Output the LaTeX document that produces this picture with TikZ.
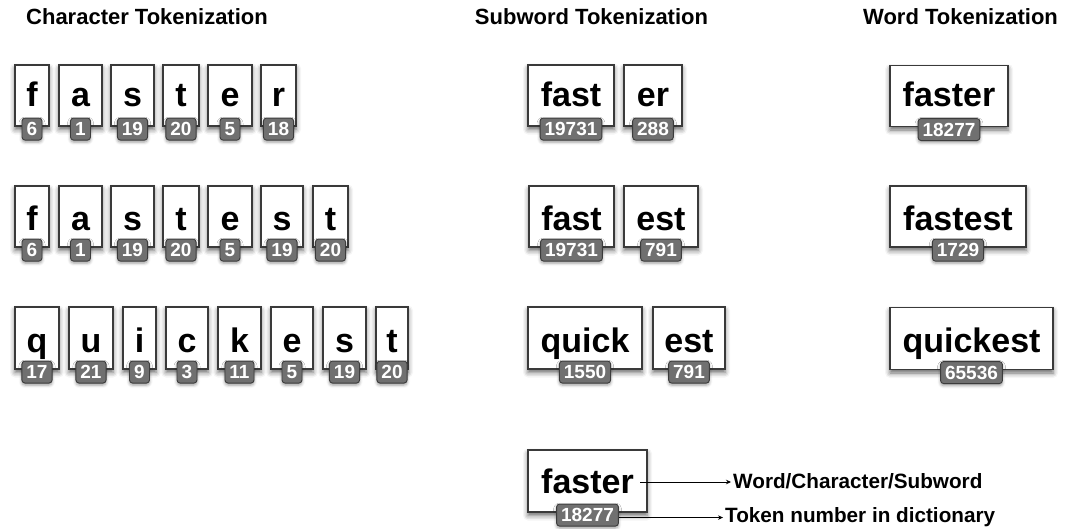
\documentclass[tikz,border=0pt]{standalone}
\usepackage{fontspec}
\setmainfont{Liberation Sans}
\usetikzlibrary{arrows.meta,shadows.blur}
\definecolor{edge}{HTML}{3A3A3A}
\definecolor{badgefill}{HTML}{707070}
\definecolor{badgeedge}{HTML}{3C3C3C}
\tikzset{
  tokbox/.style={draw=edge, line width=1.1pt, fill=white, inner sep=0pt,
    font=\fontsize{34}{40}\selectfont\bfseries,
    blur shadow={shadow xshift=0pt, shadow yshift=-3.5pt,
      shadow blur radius=5pt, shadow opacity=60}},
  rowA/.style={minimum height=61pt, text height=41pt, text depth=20pt},
  rowB/.style={minimum height=61pt, text height=44pt, text depth=17pt},
  rowC/.style={minimum height=62pt, text height=45pt, text depth=17pt},
  rowL/.style={minimum height=62pt, text height=43pt, text depth=19pt},
  badge/.style={draw=badgeedge, line width=0.9pt, fill=badgefill,
    rounded corners=3pt, text=white,
    font=\fontsize{19}{21}\selectfont\bfseries,
    inner xsep=4.5pt, inner ysep=0pt, minimum height=22pt, minimum width=20pt,
    text height=13.5pt, text depth=0pt,
    blur shadow={shadow xshift=0pt, shadow yshift=-2pt,
      shadow blur radius=3pt, shadow opacity=40}},
  title/.style={font=\fontsize{22}{25}\selectfont\bfseries, anchor=base, inner sep=0pt},
  legend/.style={font=\fontsize{20.7}{24}\selectfont\bfseries, anchor=base west, inner sep=2pt},
  legarrow/.style={draw=black, line width=0.7pt, -{Stealth[length=5pt,width=4.5pt]}}
}
% token card: name, row style, left x, right x, centre y, text, dictionary number
\newcommand\tokcard[7]{%
  \node[tokbox,#2,minimum width=#4pt-#3pt] (#1) at ({(#3+#4)/2},#5) {#6};
  \node[badge] (#1-n) at ([yshift=-2.5pt]#1.south) {#7};
}
\begin{document}
\begin{tikzpicture}[x=1pt,y=-1pt]
\useasboundingbox (0,0) rectangle (1065,528);

% column headings
\node[title] (hc) at (147,24) {Character Tokenization};
\node[title] (hs) at (591.5,24) {Subword Tokenization};
\node[title] (hw) at (960.5,24) {Word Tokenization};

% character tokenization: faster
\tokcard{a1}{rowA}{15}{49}{95.5}{f}{6}
\tokcard{a2}{rowA}{59}{102}{95.5}{a}{1}
\tokcard{a3}{rowA}{111}{154}{95.5}{s}{19}
\tokcard{a4}{rowA}{163}{199}{95.5}{t}{20}
\tokcard{a5}{rowA}{208}{252}{95.5}{e}{5}
\tokcard{a6}{rowA}{261}{296}{95.5}{r}{18}

% character tokenization: fastest
\tokcard{b1}{rowB}{15}{49}{216.5}{f}{6}
\tokcard{b2}{rowB}{59}{102}{216.5}{a}{1}
\tokcard{b3}{rowB}{111}{154}{216.5}{s}{19}
\tokcard{b4}{rowB}{163}{199}{216.5}{t}{20}
\tokcard{b5}{rowB}{208}{252}{216.5}{e}{5}
\tokcard{b6}{rowB}{261}{303}{216.5}{s}{19}
\tokcard{b7}{rowB}{313}{348}{216.5}{t}{20}

% character tokenization: quickest
\tokcard{c1}{rowC}{15}{59}{338}{q}{17}
\tokcard{c2}{rowC}{69}{113}{338}{u}{21}
\tokcard{c3}{rowC}{123}{156}{338}{i}{9}
\tokcard{c4}{rowC}{166}{208}{338}{c}{3}
\tokcard{c5}{rowC}{218}{261}{338}{k}{11}
\tokcard{c6}{rowC}{271}{313}{338}{e}{5}
\tokcard{c7}{rowC}{323}{366}{338}{s}{19}
\tokcard{c8}{rowC}{376}{408}{338}{t}{20}

% subword tokenization
\tokcard{sa1}{rowA}{528}{614}{95.5}{fast}{19731}
\tokcard{sa2}{rowA}{624}{682}{95.5}{er}{288}
\tokcard{sb1}{rowB}{529}{614}{216.5}{fast}{19731}
\tokcard{sb2}{rowB}{624}{698}{216.5}{est}{791}
\tokcard{sc1}{rowC}{528}{642}{338}{quick}{1550}
\tokcard{sc2}{rowC}{653}{725}{338}{est}{791}

% word tokenization
\tokcard{wa}{rowA}{890}{1008}{96}{faster}{18277}
\tokcard{wb}{rowB}{890}{1026}{216.5}{fastest}{1729}
\tokcard{wc}{rowC}{890}{1053}{338.5}{quickest}{65536}

% legend
\tokcard{lg}{rowL}{528}{647}{481}{faster}{18277}
\node[legend] (l1) at (731,488) {Word/Character/Subword};
\node[legend] (l2) at (723,522) {Token number in dictionary};
\coordinate (lgword) at (640,482);
\draw[legarrow] (lgword) -- (lgword -| l1.west);
\draw[legarrow] ([yshift=-2.5pt]lg-n.east) -- ([yshift=-2.5pt]lg-n.east -| l2.west);
\end{tikzpicture}
\end{document}
